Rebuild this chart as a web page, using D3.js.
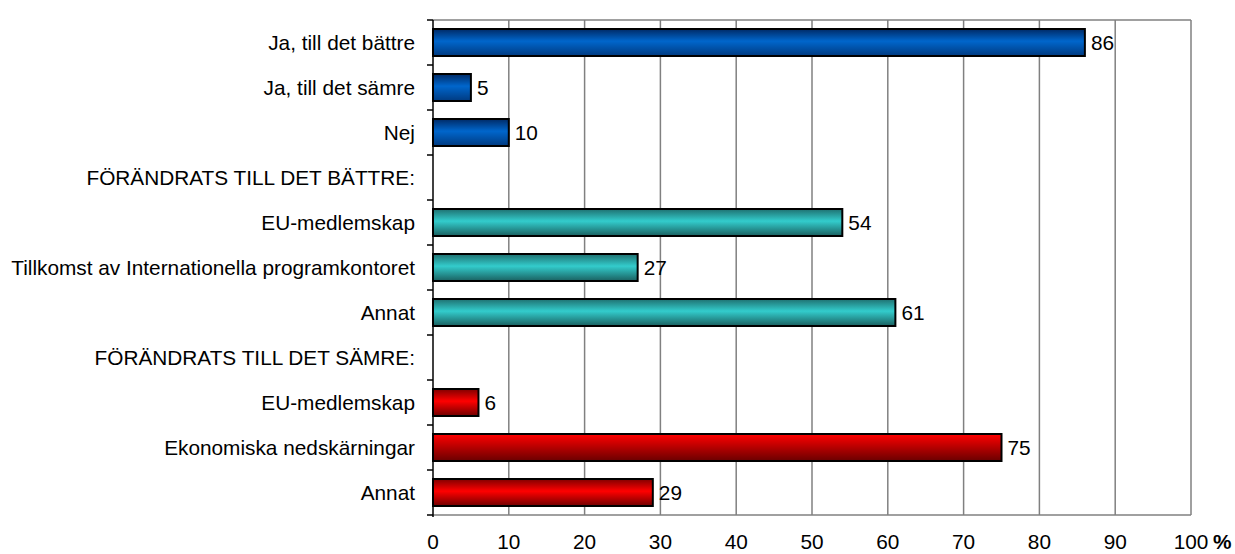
<!DOCTYPE html>
<html><head><meta charset="utf-8">
<script src="https://cdn.jsdelivr.net/npm/d3@7"></script>
<style>body{margin:0;background:#fff}svg{font-family:"Liberation Sans",Arial,sans-serif}</style>
</head><body>
<svg id="c" width="1235" height="554"></svg>
<script>
const categories = ["Ja, till det bättre","Ja, till det sämre","Nej","FÖRÄNDRATS TILL DET BÄTTRE:","EU-medlemskap","Tillkomst av Internationella programkontoret","Annat","FÖRÄNDRATS TILL DET SÄMRE:","EU-medlemskap ","Ekonomiska nedskärningar","Annat "];
const values = [86,5,10,null,54,27,61,null,6,75,29];
const groups = ["blue","blue","blue",null,"teal","teal","teal",null,"red","red","red"];
const xTicks = [0,10,20,30,40,50,60,70,80,90,100];

const svg = d3.select("#c");
const m = {l:433, r:1191, t:20, b:515};
const FS = 20.8;
const x = d3.scaleLinear().domain([0,100]).range([m.l, m.r]);
const y = d3.scaleBand().domain(categories).range([m.t, m.b]).paddingInner(0.4).paddingOuter(0.2);
const yb = d3.scaleBand().domain(categories).range([m.t, m.b]);

const defs = svg.append("defs");
const pal = {blue:["#002a66","#0066cc","#003a80"], teal:["#1f7070","#33cccc","#1a6060"], red:["#800000","#ff0000","#700000"]};
Object.entries(pal).forEach(([k,c])=>{
  const g = defs.append("linearGradient").attr("id","g-"+k).attr("x1",0).attr("y1",0).attr("x2",0).attr("y2",1);
  g.append("stop").attr("offset","0%").attr("stop-color",c[0]);
  g.append("stop").attr("offset","45%").attr("stop-color",c[1]);
  g.append("stop").attr("offset","100%").attr("stop-color",c[2]);
});
const gf = defs.append("linearGradient").attr("id","g-redfade").attr("x1",0).attr("y1",0).attr("x2",0).attr("y2",1);
gf.append("stop").attr("offset","0%").attr("stop-color","#ff0000");
gf.append("stop").attr("offset","100%").attr("stop-color","#6a0000");

// gridlines
svg.append("g").selectAll("line").data(xTicks.slice(1)).join("line")
  .attr("x1",d=>x(d)).attr("x2",d=>x(d)).attr("y1",m.t).attr("y2",m.b)
  .attr("stroke","#808080").attr("stroke-width",1.5);
svg.append("line").attr("x1",m.l).attr("x2",m.r).attr("y1",m.t).attr("y2",m.t).attr("stroke","#808080").attr("stroke-width",1.5);
svg.append("line").attr("x1",m.l).attr("x2",m.r).attr("y1",m.b).attr("y2",m.b).attr("stroke","#808080").attr("stroke-width",1.5);

// left axis
const ticksY = categories.map(c=>yb(c)).concat([m.b]);
svg.append("line").attr("x1",m.l).attr("x2",m.l).attr("y1",m.t).attr("y2",m.b+2).attr("stroke","#000").attr("stroke-width",1.5);
svg.append("g").selectAll("line").data(ticksY).join("line")
  .attr("x1",m.l-6).attr("x2",m.l).attr("y1",d=>d).attr("y2",d=>d).attr("stroke","#000").attr("stroke-width",1.5);

// category labels
svg.append("g").selectAll("text").data(categories).join("text")
  .attr("x",415).attr("y",d=>yb(d)+yb.bandwidth()/2).attr("dy","0.35em")
  .attr("text-anchor","end").attr("font-size",FS).attr("fill","#000").text(d=>d.trim());

// bars
const idx = d3.range(categories.length).filter(i=>values[i]!=null);
svg.append("g").selectAll("rect").data(idx).join("rect")
  .attr("x",x(0)).attr("y",i=>y(categories[i])).attr("height",y.bandwidth())
  .attr("width",i=>x(values[i])-x(0))
  .attr("fill",i=>i===9?"url(#g-redfade)":"url(#g-"+groups[i]+")")
  .attr("stroke","#000").attr("stroke-width",2);

// value labels
svg.append("g").selectAll("text").data(idx).join("text")
  .attr("x",i=>x(values[i])+6).attr("y",i=>y(categories[i])+y.bandwidth()/2).attr("dy","0.36em")
  .attr("font-size",FS).attr("fill","#000").text(i=>values[i]);

// x tick labels
svg.append("g").selectAll("text").data(xTicks).join("text")
  .attr("x",d=>x(d)).attr("y",549).attr("text-anchor","middle").attr("font-size",FS).attr("fill","#000").text(d=>d);
svg.append("text").attr("x",x(100)+22).attr("y",549).attr("font-size",FS).attr("font-weight","bold").text("%");
</script>
</body></html>
